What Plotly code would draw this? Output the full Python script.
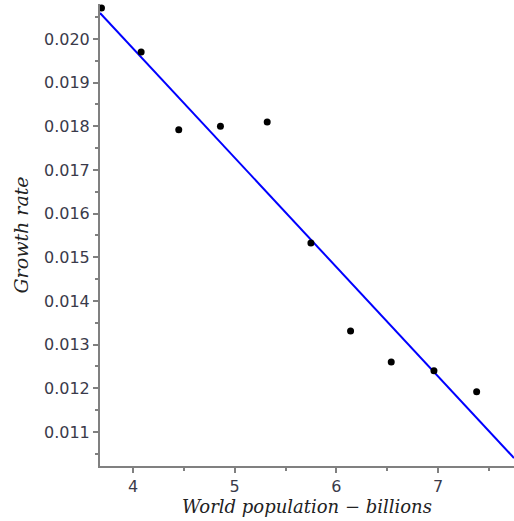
import plotly.graph_objects as go
import numpy as np

population = [3.69, 4.08, 4.45, 4.86, 5.32, 5.75, 6.14, 6.54, 6.96, 7.38]
growth = [0.02071, 0.0197, 0.01792, 0.0180, 0.0181, 0.01533, 0.01331, 0.0126, 0.0124, 0.01192]
fit_intercept = 0.029792
fit_slope = -0.0025024
x_range = [3.6754, 7.7475]
y_range = [0.010221, 0.0208]

line_x = np.array(x_range)
line_y = fit_intercept + fit_slope * line_x

fig = go.Figure()
fig.add_trace(go.Scatter(x=line_x, y=line_y, mode="lines",
                         line=dict(color="#0000ff", width=2), showlegend=False))
fig.add_trace(go.Scatter(x=population, y=growth, mode="markers",
                         marker=dict(color="black", size=7), cliponaxis=False, showlegend=False))

axis_common = dict(showline=True, linecolor="#808080", linewidth=2, ticks="outside",
                   ticklen=5, tickwidth=2, tickcolor="#808080", showgrid=False, zeroline=False,
                   tickfont=dict(family="DejaVu Sans", size=16, color="#3a3a4a"))
fig.update_layout(
    width=514, height=521,
    margin=dict(l=100, r=0, t=4, b=55),
    plot_bgcolor="white", paper_bgcolor="white",
    xaxis=dict(range=x_range, tick0=4, dtick=1,
               minor=dict(dtick=0.5, ticks="outside", ticklen=3, tickwidth=2, tickcolor="#808080"),
               title=dict(text="World population − billions", standoff=2,
                          font=dict(family="DejaVu Serif", size=18, color="#222", style="italic")),
               **axis_common),
    yaxis=dict(range=y_range, tick0=0.011, dtick=0.001, tickformat=".3f",
               minor=dict(dtick=0.0005, ticks="outside", ticklen=3, tickwidth=2, tickcolor="#808080"),
               title=dict(text="Growth rate", standoff=10,
                          font=dict(family="DejaVu Serif", size=19, color="#222", style="italic")),
               **axis_common),
)
fig.write_html("out.html", config={"displayModeBar": False},
               post_script="document.body.style.margin='0';document.body.style.overflow='hidden';")
